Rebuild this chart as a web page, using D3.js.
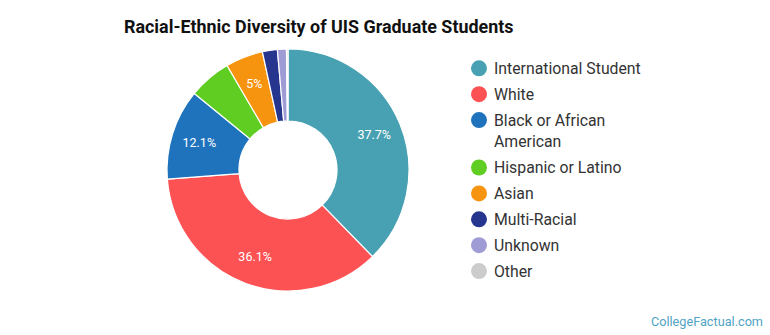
<!DOCTYPE html>
<html>
<head>
  <meta charset="utf-8">
  <title>uis diversity</title>
  <style>
    body { margin: 0; background: #fff; }
    svg { font-family: Roboto, "Noto Sans", sans-serif; }
    .title { font-size: 17.9px; font-weight: bold; fill: #111; }
    .slice { stroke: #fff; stroke-width: 1.2; }
    .pct { fill: #fff; font-size: 12.5px; text-anchor: middle; dominant-baseline: central; }
    .leg text { font-size: 15.8px; fill: #333; }
    .credit { font-size: 12.7px; fill: #4fa3c4; text-anchor: end; }
  </style>
</head>
<body>
  <svg id="chart" width="770" height="335"></svg>
  <script src="https://cdn.jsdelivr.net/npm/d3@7"></script>
  <script>
  // categories, values (percent), colours and which slices get a label
  var groups = ["International Student", "White", "Black or African American",
                "Hispanic or Latino", "Asian", "Multi-Racial", "Unknown", "Other"];
  var legendLines = [["International Student"], ["White"], ["Black or African", "American"],
                     ["Hispanic or Latino"], ["Asian"], ["Multi-Racial"], ["Unknown"], ["Other"]];
  var shares = [37.7, 36.1, 12.1, 5.7, 5, 2.0, 1.2, 0.2];
  var colors = ["#48a1b3", "#fd5254", "#1f73bd", "#5fcd22", "#f7940f", "#26368f", "#9f9bd5", "#cccccc"];
  var labels = ["37.7%", "36.1%", "12.1%", "", "5%", "", "", ""];

  var svg = d3.select("#chart");

  svg.append("text").attr("class", "title")
      .attr("x", 124).attr("y", 33)
      .text("Racial-Ethnic Diversity of UIS Graduate Students");

  var cx = 288, cy = 170, R = 121, r0 = 49;

  var pie = d3.pie().sort(null).value(function(d) { return d; });
  var arc = d3.arc().innerRadius(r0).outerRadius(R);
  var labelArc = d3.arc().innerRadius(93).outerRadius(93);

  var g = svg.append("g").attr("transform", "translate(" + cx + "," + cy + ")");
  var arcs = pie(shares);

  g.selectAll("path")
      .data(arcs)
    .enter().append("path")
      .attr("class", "slice")
      .attr("d", arc)
      .attr("fill", function(d, i) { return colors[i]; });

  g.selectAll("text")
      .data(arcs)
    .enter().append("text")
      .attr("class", "pct")
      .attr("transform", function(d) { return "translate(" + labelArc.centroid(d) + ")"; })
      .text(function(d, i) { return labels[i]; });

  // legend; wrapped entries take an extra line
  var leg = svg.append("g").attr("class", "leg");
  var y = 68.3;
  legendLines.forEach(function(lines, i) {
    leg.append("circle").attr("cx", 479).attr("cy", y).attr("r", 8).attr("fill", colors[i]);
    lines.forEach(function(t, j) {
      leg.append("text").attr("x", 494).attr("y", y + j * 21.3)
          .attr("dy", "0.35em").text(t);
    });
    y += 25.9 + (lines.length - 1) * 21.5;
  });

  svg.append("text").attr("class", "credit")
      .attr("x", 763).attr("y", 326)
      .text("CollegeFactual.com");
  </script>
</body>
</html>
